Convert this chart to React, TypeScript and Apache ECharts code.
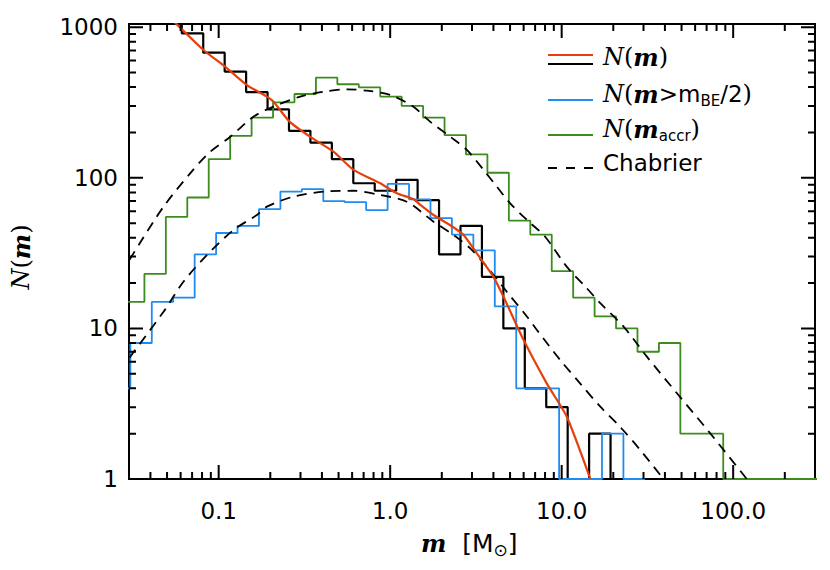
import React, { useEffect, useRef } from 'react';
import * as echarts from 'echarts';

// ---------- axes ----------
const X_MIN = 0.03;
const X_MAX = 300;
const Y_MIN = 1;
const Y_MAX = 1050;
const xTickValues = [0.1, 1, 10, 100];
const xTickLabels = ['0.1', '1.0', '10.0', '100.0'];
const yTickValues = [1, 10, 100, 1000];
const yTickLabels = ['1', '10', '100', '1000'];

// ---------- histograms (log-spaced bins, 0.125 dex) ----------
const BIN_WIDTH_DEX = 0.125;
// N(m): black
const allFirstEdgeLog = -1.34;
const allCounts = [1200, 911, 677, 507, 371, 285, 205, 171, 133, 92, 82, 97, 71, 31, 48, 22, 10, 4, 3, 1, 2, 1];
// N(m > m_BE/2): blue
const beFirstEdgeLog = -1.64;
const beCounts = [4, 8, 15, 16, 31, 43, 48, 62, 81, 84, 70, 69, 61, 91, 72, 54, 42, 33, 14, 4, 4, 1, 1, 2, 1];
// N(m_accr): green
const accrFirstEdgeLog = -1.558;
const accrCounts = [15, 23, 55, 74, 133, 190, 251, 317, 360, 462, 418, 399, 346, 300, 251, 192, 143, 108, 52, 42, 24, 16, 12, 10, 7, 8, 2, 2, 1, 1, 1, 1, 1];

// ---------- smooth N(m) curve (red) ----------
const nmMass = [0.05, 0.0815, 0.109, 0.146, 0.191, 0.209, 0.259, 0.342, 0.467, 0.611, 0.875, 1.094, 1.37, 1.5, 1.79, 2.3, 2.68, 3.2, 4.0, 4.68, 5.99, 8.2, 10.7, 14.7];
const nmValue = [1210, 706, 547, 413, 346, 320, 236, 187, 149, 113, 92, 79, 72, 66, 56.6, 47.5, 41.7, 31.5, 22, 15.4, 8.4, 4.3, 2.6, 1];

// ---------- Chabrier curves (dashed) ----------
const chabHighMass = [0.0302, 0.0348, 0.0477, 0.0682, 0.0873, 0.117, 0.160, 0.209, 0.299, 0.408, 0.560, 0.731, 1.0, 1.36, 1.71, 2.24, 2.80, 3.50, 4.19, 5.01, 6.27, 8.01, 10.7, 14.0, 16.8, 22.9, 31.4, 47, 73.5, 120];
const chabHighValue = [28.5, 37, 64.3, 107, 145.5, 187.5, 255, 297, 346, 373, 387, 379, 355, 297, 236, 187.5, 153, 113, 87.3, 67.7, 52.5, 40.6, 25.7, 18.5, 14.7, 10.3, 6.49, 3.71, 2.01, 1];
const chabLowMass = [0.0302, 0.0477, 0.0623, 0.0853, 0.122, 0.167, 0.191, 0.273, 0.408, 0.611, 0.875, 1.25, 1.79, 2.34, 2.93, 3.66, 4.79, 6.27, 7.17, 9.8, 12.8, 16.8, 21.9, 28.7, 39.2];
const chabLowValue = [6.4, 12.9, 20.4, 30.7, 45, 56.6, 64.3, 75, 80.9, 82, 76.9, 69.4, 51.1, 41.7, 34, 25.7, 17.5, 12, 9.76, 6.17, 4.32, 3.02, 2.22, 1.56, 1];

// ---------- colours ----------
const RED = '#e5400c';
const BLUE = '#1e8cf0';
const GREEN = '#3c8c1e';
const BLACK = '#000000';

// ---------- layout ----------
const WIDTH = 830;
const HEIGHT = 570;
const GRID = { left: 129, right: 15, top: 24, bottom: 91 };
const MAJOR_LEN = 14;
const MINOR_LEN = 7;

function histogram(firstEdgeLog: number, counts: number[]) {
  const pts: number[][] = [];
  counts.forEach((c, k) => {
    const lo = Math.pow(10, firstEdgeLog + k * BIN_WIDTH_DEX);
    const hi = Math.pow(10, firstEdgeLog + (k + 1) * BIN_WIDTH_DEX);
    pts.push([lo, c], [hi, c]);
  });
  return pts;
}

function zip(xs: number[], ys: number[]) {
  return xs.map((x, i) => [x, ys[i]]);
}

function lookupLabel(v: number, values: number[], labels: string[]) {
  for (let i = 0; i < values.length; i++) {
    if (Math.abs(Math.log10(v) - Math.log10(values[i])) < 1e-6) return labels[i];
  }
  return '';
}

// tick values k x 10^d inside (lo, hi); flag 1 = major (k = 1)
function logTicks(lo: number, hi: number) {
  const out: number[][] = [];
  for (let d = -3; d <= 4; d++) {
    for (let k = 1; k <= 9; k++) {
      const v = k * Math.pow(10, d);
      if (v <= lo * 1.001 || v >= hi * 0.999) continue;
      out.push([v, k === 1 ? 1 : 0]);
    }
  }
  return out;
}

// IDL-style inward ticks on all four sides, as broken line segments in data space.
function tickSegments() {
  const plotW = WIDTH - GRID.left - GRID.right;
  const plotH = HEIGHT - GRID.top - GRID.bottom;
  const xDex = Math.log10(X_MAX / X_MIN);
  const yDex = Math.log10(Y_MAX / Y_MIN);
  const gap: any = ['-', '-'];
  const segs: any[] = [];
  logTicks(X_MIN, X_MAX).forEach(([v, major]) => {
    const f = Math.pow(10, (yDex * (major ? MAJOR_LEN : MINOR_LEN)) / plotH);
    segs.push([v, Y_MIN], [v, Y_MIN * f], gap);
    segs.push([v, Y_MAX], [v, Y_MAX / f], gap);
  });
  logTicks(Y_MIN, Y_MAX).forEach(([v, major]) => {
    const f = Math.pow(10, (xDex * (major ? MAJOR_LEN : MINOR_LEN)) / plotW);
    segs.push([X_MIN, v], [X_MIN * f, v], gap);
    segs.push([X_MAX, v], [X_MAX / f, v], gap);
  });
  return segs;
}

const SERIF = 'DejaVu Serif';
const SANS = 'DejaVu Sans';

function makeRich(sSize: number, subSize: number) {
  return {
    i: { fontFamily: SERIF, fontStyle: 'italic', fontSize: 24, color: '#000' },
    mi: { fontFamily: SERIF, fontStyle: 'italic', fontWeight: 'bold', fontSize: 24, color: '#000' },
    p: { fontFamily: SERIF, fontSize: 24, color: '#000' },
    s: { fontFamily: SANS, fontSize: sSize, color: '#000' },
    sub: { fontFamily: SANS, fontSize: subSize, color: '#000', padding: [13, 0, 0, 0] },
  };
}

function legendAndTitles(): any[] {
  return [
    { type: 'line', shape: { x1: 548, y1: 55, x2: 593, y2: 55 }, style: { stroke: RED, lineWidth: 2 } },
    { type: 'line', shape: { x1: 548, y1: 64, x2: 593, y2: 64 }, style: { stroke: BLACK, lineWidth: 2 } },
    { type: 'line', shape: { x1: 548, y1: 100, x2: 593, y2: 100 }, style: { stroke: BLUE, lineWidth: 2 } },
    { type: 'line', shape: { x1: 548, y1: 135, x2: 593, y2: 135 }, style: { stroke: GREEN, lineWidth: 2 } },
    { type: 'line', shape: { x1: 548, y1: 168, x2: 593, y2: 168 }, style: { stroke: BLACK, lineWidth: 2, lineDash: [9, 9] } },
    { type: 'text', x: 603, y: 57, style: { text: '{i|N}{p|(}{mi|m}{p|)}', rich: makeRich(23, 15), align: 'left', verticalAlign: 'middle' } },
    { type: 'text', x: 603, y: 94, style: { text: '{i|N}{p|(}{mi|m}{s|>m}{sub|BE}{s|/2}{p|)}', rich: makeRich(23, 15), align: 'left', verticalAlign: 'middle' } },
    { type: 'text', x: 603, y: 129, style: { text: '{i|N}{p|(}{mi|m}{sub|accr}{p|)}', rich: makeRich(23, 15), align: 'left', verticalAlign: 'middle' } },
    { type: 'text', x: 603, y: 163, style: { text: 'Chabrier', font: `23px "${SANS}"`, fill: '#000', align: 'left', verticalAlign: 'middle' } },
    { type: 'text', x: 21, y: 257, rotation: Math.PI / 2, style: { text: '{i|N}{p|(}{mi|m}{p|)}', rich: makeRich(23, 15), align: 'center', verticalAlign: 'middle' } },
    { type: 'text', x: 421, y: 543, style: { text: '{mi|m}{s|  [M}{sub|⊙}{s|]}', rich: makeRich(25, 17), align: 'left', verticalAlign: 'middle' } },
  ];
}

export default function App() {
  const ref = useRef<HTMLDivElement>(null);
  useEffect(() => {
    if (!ref.current) return;
    const chart = echarts.init(ref.current, undefined, { renderer: 'svg' });

    const option: any = {
      animation: false,
      grid: { ...GRID, show: true, borderColor: '#000', borderWidth: 2 },
      xAxis: {
        type: 'log', logBase: 10, min: X_MIN, max: X_MAX,
        splitLine: { show: false },
        axisTick: { show: false },
        axisLine: { show: true, lineStyle: { color: '#000', width: 2 } },
        axisLabel: {
          color: '#000', fontFamily: SANS, fontSize: 23, margin: 20,
          formatter: (v: number) => lookupLabel(v, xTickValues, xTickLabels),
        },
      },
      yAxis: {
        type: 'log', logBase: 10, min: Y_MIN, max: Y_MAX,
        splitLine: { show: false },
        axisTick: { show: false },
        axisLine: { show: true, lineStyle: { color: '#000', width: 2 } },
        axisLabel: {
          color: '#000', fontFamily: SANS, fontSize: 23, margin: 11,
          formatter: (v: number) => lookupLabel(v, yTickValues, yTickLabels),
        },
      },
      series: [
        {
          name: 'N(m) hist', type: 'line', data: histogram(allFirstEdgeLog, allCounts),
          symbol: 'none', lineStyle: { color: BLACK, width: 2.2 },
        },
        {
          name: 'N(m>mBE/2)', type: 'line', data: histogram(beFirstEdgeLog, beCounts),
          symbol: 'none', lineStyle: { color: BLUE, width: 1.8 },
        },
        {
          name: 'N(m_accr)', type: 'line', data: histogram(accrFirstEdgeLog, accrCounts),
          symbol: 'none', lineStyle: { color: GREEN, width: 1.8 },
        },
        {
          name: 'Chabrier high', type: 'line', data: zip(chabHighMass, chabHighValue),
          symbol: 'none', smooth: 0.3, lineStyle: { color: BLACK, width: 1.8, type: [10, 7] },
        },
        {
          name: 'Chabrier low', type: 'line', data: zip(chabLowMass, chabLowValue),
          symbol: 'none', smooth: 0.3, lineStyle: { color: BLACK, width: 1.8, type: [10, 7] },
        },
        {
          name: 'N(m)', type: 'line', data: zip(nmMass, nmValue),
          symbol: 'none', smooth: 0.2, lineStyle: { color: RED, width: 2.2 },
        },
        {
          name: 'ticks', type: 'line', data: tickSegments(),
          symbol: 'none', connectNulls: false, silent: true, z: 6,
          lineStyle: { color: BLACK, width: 2 },
        },
      ],
      graphic: legendAndTitles(),
    };

    chart.setOption(option);
    return () => chart.dispose();
  }, []);

  return (
    <div
      ref={ref}
      style={{ position: 'absolute', left: 0, top: 0, width: WIDTH, height: HEIGHT, background: '#fff' }}
    />
  );
}
